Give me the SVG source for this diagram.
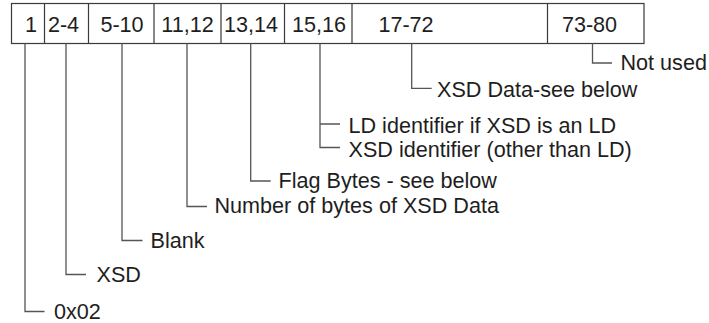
<svg xmlns="http://www.w3.org/2000/svg" width="709" height="323" viewBox="0 0 709 323">
<style>
text{font-family:"Liberation Sans",Arial,sans-serif;font-size:21.6px;fill:#1e1e1e}
.c{text-anchor:middle}
.box{fill:#fff;stroke:#3a3a3a;stroke-width:1.2}
.conn path{fill:none;stroke:#555;stroke-width:1.3}
</style>
<rect width="709" height="323" fill="#fff"/>
<g id="record">
<rect class="box" x="11.5" y="3.5" width="632.5" height="40"/>
<path d="M44.5 3.5V43.5M88.5 3.5V43.5M154 3.5V43.5M221 3.5V43.5M284.5 3.5V43.5M352 3.5V43.5M547.5 3.5V43.5" stroke="#3a3a3a" stroke-width="1.2" fill="none"/>
<text class="c" x="31" y="32">1</text>
<text class="c" x="63.5" y="32">2-4</text>
<text class="c" x="122" y="32">5-10</text>
<text class="c" x="187.5" y="32">11,12</text>
<text class="c" x="251" y="32">13,14</text>
<text class="c" x="319" y="32">15,16</text>
<text class="c" x="406" y="32">17-72</text>
<text class="c" x="589.5" y="32">73-80</text>
</g>
<g id="connectors" class="conn">
<path d="M25 43.5V311.5H44.5"/>
<path d="M66 43.5V274.5H86"/>
<path d="M122 43.5V240.5H142.5"/>
<path d="M187 43.5V206.5H207"/>
<path d="M250.7 43.5V181H270.7"/>
<path d="M320 43.5V147.5H340M320 124H340"/>
<path d="M411.7 43.5V88.3H431.7"/>
<path d="M592.5 43.5V63H612"/>
</g>
<g id="label-0x02"><text x="54" y="319">0x02</text></g>
<g id="label-xsd"><text x="96.5" y="282">XSD</text></g>
<g id="label-blank"><text x="150.5" y="248">Blank</text></g>
<g id="label-number"><text x="214.5" y="213">Number of bytes of XSD Data</text></g>
<g id="label-flag"><text x="278.5" y="188">Flag Bytes - see below</text></g>
<g id="label-ld"><text x="348.5" y="133">LD identifier if XSD is an LD</text></g>
<g id="label-xsdid"><text x="348.5" y="156.5">XSD identifier (other than LD)</text></g>
<g id="label-data"><text x="437" y="96.5">XSD Data-see below</text></g>
<g id="label-notused"><text x="620.5" y="69.5">Not used</text></g>
</svg>
